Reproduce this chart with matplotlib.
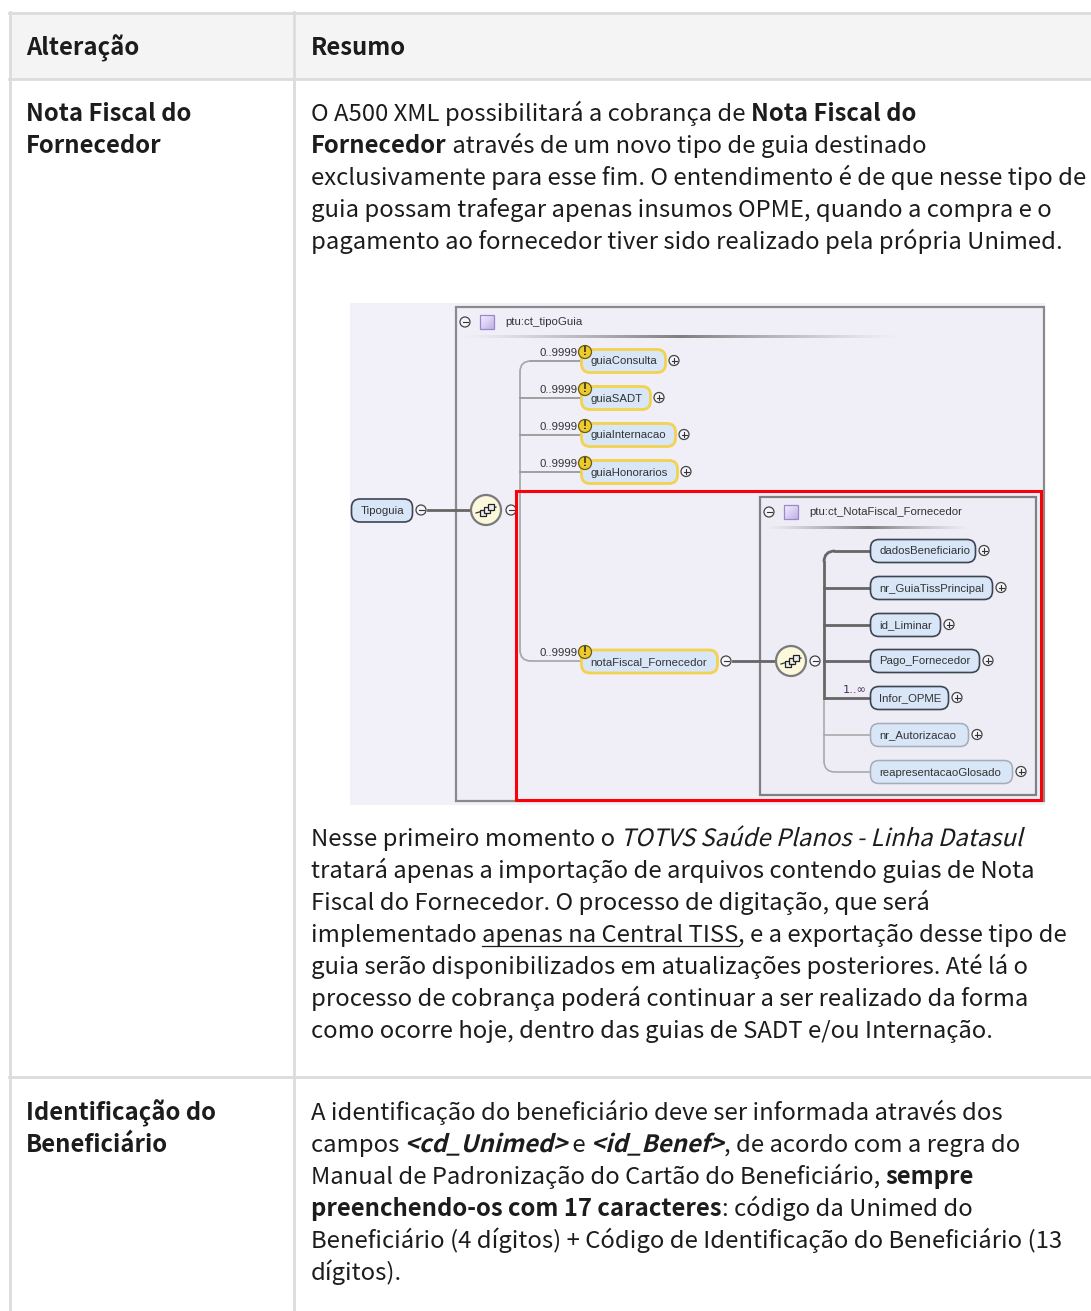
import numpy as np
import matplotlib
matplotlib.use("Agg")
import matplotlib.pyplot as plt
from matplotlib.patches import Circle, FancyBboxPatch, PathPatch, Rectangle
from matplotlib.path import Path
from matplotlib.patheffects import AbstractPathEffect
from matplotlib.transforms import Affine2D
from matplotlib.font_manager import FontProperties

# Table text: each line is a list of (text, style) runs
header_left = "Alteração"
header_right = "Resumo"
left_row1 = ["Nota Fiscal do", "Fornecedor"]
left_row2 = ["Identificação do", "Beneficiário"]

para1 = [
    [("O A500 XML possibilitará a cobrança de ", "r"), ("Nota Fiscal do", "b")],
    [("Fornecedor", "b"), (" através de um novo tipo de guia destinado", "r")],
    [("exclusivamente para esse fim. O entendimento é de que nesse tipo de", "r")],
    [("guia possam trafegar apenas insumos OPME, quando a compra e o", "r")],
    [("pagamento ao fornecedor tiver sido realizado pela própria Unimed.", "r")],
]
para2 = [
    [("Nesse primeiro momento o ", "r"), ("TOTVS Saúde Planos - Linha Datasul", "i")],
    [("tratará apenas a importação de arquivos contendo guias de Nota", "r")],
    [("Fiscal do Fornecedor. O processo de digitação, que será", "r")],
    [("implementado ", "r"), ("apenas na Central TISS", "u"), (", e a exportação desse tipo de", "r")],
    [("guia serão disponibilizados em atualizações posteriores. Até lá o", "r")],
    [("processo de cobrança poderá continuar a ser realizado da forma", "r")],
    [("como ocorre hoje, dentro das guias de SADT e/ou Internação.", "r")],
]
para3 = [
    [("A identificação do beneficiário deve ser informada através dos", "r")],
    [("campos ", "r"), ("<cd_Unimed>", "bi"), (" e ", "r"), ("<id_Benef>", "bi"), (", de acordo com a regra do", "r")],
    [("Manual de Padronização do Cartão do Beneficiário, ", "r"), ("sempre", "b")],
    [("preenchendo-os com 17 caracteres", "b"), (": código da Unimed do", "r")],
    [("Beneficiário (4 dígitos) + Código de Identificação do Beneficiário (13", "r")],
    [("dígitos).", "r")],
]

# Diagram labels
outer_title = "ptu:ct_tipoGuia"
inner_title = "ptu:ct_NotaFiscal_Fornecedor"
outer_names = ["guiaConsulta", "guiaSADT", "guiaInternacao", "guiaHonorarios"]
inner_names = ["dadosBeneficiario", "nr_GuiaTissPrincipal", "id_Liminar", "Pago_Fornecedor",
               "Infor_OPME", "nr_Autorizacao", "reapresentacaoGlosado"]
inner_required = [True, True, True, True, True, False, False]

# Fonts
CJK = "Noto Sans CJK JP"
SIZE = 17.2
styles = {
    "r": FontProperties(family=CJK, size=SIZE),
    "b": FontProperties(family=CJK, size=SIZE, weight="bold"),
    "u": FontProperties(family=CJK, size=SIZE),
    "i": FontProperties(family=CJK, size=SIZE),
    "bi": FontProperties(family=CJK, size=SIZE, weight="bold"),
}


class Oblique(AbstractPathEffect):
    # the font has no italic, so slant the glyphs like a browser does
    def draw_path(self, renderer, gc, tpath, affine, rgbFace=None):
        renderer.draw_path(gc, tpath, Affine2D().skew_deg(14, 0) + affine, rgbFace)


fig = plt.figure(figsize=(10.91, 13.11), dpi=100, facecolor="white")
ax = fig.add_axes([0, 0, 1, 1])
ax.set_xlim(0, 1091)
ax.set_ylim(1311, 0)
ax.axis("off")
renderer = fig.canvas.get_renderer()


def run_width(s, fp):
    # pad with dots so leading and trailing spaces are counted
    w1 = renderer.get_text_width_height_descent("." + s + ".", fp, False)[0]
    w2 = renderer.get_text_width_height_descent("..", fp, False)[0]
    return w1 - w2


def draw_line(x, y, runs):
    for s, st in runs:
        fp = styles[st]
        t = ax.text(x, y, s, fontproperties=fp, color="#1c1c1c", va="baseline", ha="left")
        if st in ("i", "bi"):
            t.set_path_effects([Oblique()])
        w = run_width(s, fp)
        if st == "u":
            ax.plot([x, x + w], [y + 3.5, y + 3.5], color="#1c1c1c", lw=0.9)
        x += w


# Table frame
border = "#dcdcdc"
ax.add_patch(Rectangle((9, 12), 1082, 66, fc="#f4f4f4", ec="none"))
ax.plot([9, 1091], [12.5, 12.5], color=border, lw=2)
ax.plot([9, 1091], [78.5, 78.5], color=border, lw=2)
ax.plot([9, 1091], [1077, 1077], color=border, lw=2)
ax.plot([9.5, 9.5], [12, 1311], color=border, lw=2)
ax.plot([293.5, 293.5], [12, 1311], color=border, lw=2)

draw_line(26, 55, [(header_left, "b")])
draw_line(311, 55, [(header_right, "b")])
for i, s in enumerate(left_row1):
    draw_line(26, 121 + i * 32, [(s, "b")])
for i, s in enumerate(left_row2):
    draw_line(26, 1120 + i * 32, [(s, "b")])
for i, runs in enumerate(para1):
    draw_line(311, 121 + i * 32, runs)
for i, runs in enumerate(para2):
    draw_line(311, 846 + i * 32, runs)
for i, runs in enumerate(para3):
    draw_line(311, 1120 + i * 32, runs)

# Diagram
DFONT = "Liberation Sans"
DSIZE = 8.2
dtext = "#333333"
dark_line = "#666666"
thin_line = "#aaaaaa"
ax.add_patch(Rectangle((350, 303), 695, 502, fc="#f2f0f8", ec="none", zorder=1))
ax.add_patch(Rectangle((456, 307), 588, 494, fc="#f0eef7", ec="#8a8a8a", lw=1.6, zorder=2))
ax.add_patch(Rectangle((760, 497), 276, 298, fc="#eeecf5", ec="#808080", lw=1.6, zorder=2))


def pm_circle(x, y, plus):
    ax.add_patch(Circle((x, y), 5, fc="#f6f5fa", ec="#444444", lw=0.9, zorder=6))
    ax.plot([x - 2.5, x + 2.5], [y, y], color="#333333", lw=0.8, zorder=7)
    if plus:
        ax.plot([x, x], [y - 2.5, y + 2.5], color="#333333", lw=0.8, zorder=7)


def pill(x0, x1, y, name, edge="#3c4650", lw=1.2):
    ax.add_patch(FancyBboxPatch((x0 + 8, y - 3), x1 - x0 - 16, 6, boxstyle="round,pad=8.5,rounding_size=8.5",
                                fc="#d8e6f8", ec=edge, lw=lw, zorder=5))
    ax.text(x0 + 8.5, y + 0.5, name, fontsize=DSIZE, family=DFONT, color=dtext, va="center", ha="left", zorder=6)


def warn(x, y):
    ax.add_patch(Circle((x, y), 6.5, fc="#eccb2e", ec="#6e5a10", lw=0.9, zorder=7))
    ax.text(x, y + 0.3, "!", fontsize=8.5, family=DFONT, weight="bold", color="#222222", va="center", ha="center", zorder=8)


def seq_circle(x, y):
    ax.add_patch(Circle((x, y), 15, fc="#fbf8dc", ec="#7a7a7a", lw=1.6, zorder=6))
    ax.plot([x - 10, x + 10], [y + 3, y - 3], color="#333333", lw=0.9, zorder=7)
    for dx, dy in [(-5, 1), (-1, -2), (3, -5)]:
        ax.add_patch(Rectangle((x + dx - 1.5, y + dy - 1.5), 6, 6, fc="#eeeeee", ec="#222222", lw=0.9, zorder=8))


def fade_line(x0, x1, y):
    # the grey rule under a box title fades out at both ends
    rgba = np.zeros((1, 200, 4))
    rgba[..., :3] = 0.5
    rgba[..., 3] = np.clip(1 - np.abs(np.linspace(-1, 1, 200)), 0, 1) ** 1.2
    ax.imshow(rgba, extent=(x0, x1, y + 1.5, y - 1.5), aspect="auto", zorder=3)


def title(x, y, name):
    pm_circle(x, y, False)
    grad = np.linspace(0, 1, 20)[None, :] * 0.5 + np.linspace(0, 1, 20)[:, None] * 0.5
    rgb = np.dstack([0.96 - 0.2 * grad, 0.95 - 0.26 * grad, 0.99 - 0.08 * grad])
    ax.imshow(rgb, extent=(x + 15, x + 29, y + 7, y - 7), aspect="auto", zorder=6)
    ax.add_patch(Rectangle((x + 15, y - 7), 14, 14, fc="none", ec="#9a88cc", lw=0.9, zorder=7))
    ax.text(x + 40, y, name, fontsize=DSIZE, family=DFONT, color=dtext, va="center", ha="left", zorder=6)


def corner(x0, y0, xc, yc, x1, y1, color, lw):
    # rounded bend of a connector, from (x0, y0) over the corner (xc, yc) to (x1, y1)
    path = Path([(x0, y0), (xc, yc), (x1, y1)], [Path.MOVETO, Path.CURVE3, Path.CURVE3])
    ax.add_patch(PathPatch(path, fc="none", ec=color, lw=lw, zorder=4))


title(465, 322, outer_title)
fade_line(460, 900, 337)
title(769, 512, inner_title)
fade_line(765, 970, 528)

# root element and the outer sequence
pill(352, 412, 510.5, "Tipoguia")
pm_circle(421, 510, False)
ax.plot([428, 471], [510, 510], color=dark_line, lw=2, zorder=4)
seq_circle(486, 510)
pm_circle(511, 510, False)

outer_y = [361, 398, 435, 472]
outer_x1 = [665, 650, 675, 677]
corner(520, 372, 520, 361, 531, 361, thin_line, 1.3)
ax.plot([520, 520], [372, 650], color=thin_line, lw=1.3, zorder=4)
corner(520, 650, 520, 661, 531, 661, thin_line, 1.3)
ax.plot([531, 582], [661, 661], color=thin_line, lw=1.3, zorder=4)
for i, (name, y, x1) in enumerate(zip(outer_names, outer_y, outer_x1)):
    ax.plot([531 if i == 0 else 520, 582], [y, y], color="#999999", lw=1.3, zorder=4)
    pill(582, x1, y, name, edge="#f3d24e", lw=2)
    warn(585, y - 9)
    ax.text(539, y - 8, "0..9999", fontsize=DSIZE, family=DFONT, color=dtext, va="center", ha="left", zorder=6)
    pm_circle(x1 + 9, y - 0.5, True)

pill(582, 717, 661.5, "notaFiscal_Fornecedor", edge="#f3d24e", lw=2)
warn(585, 652)
ax.text(539, 653, "0..9999", fontsize=DSIZE, family=DFONT, color=dtext, va="center", ha="left", zorder=6)
pm_circle(726, 661, False)
ax.plot([733, 776], [661, 661], color=dark_line, lw=2, zorder=4)
seq_circle(791, 661)
pm_circle(815, 661, False)

# inner sequence
inner_y = [551, 588, 625, 661, 698, 735, 772]
inner_x1 = [975, 992, 940, 979, 948, 968, 1012]
corner(824, 562, 824, 551, 835, 551, dark_line, 2)
ax.plot([824, 824], [562, 698], color=dark_line, lw=2, zorder=4)
ax.plot([824, 824], [698, 761], color=thin_line, lw=1.2, zorder=4)
corner(824, 761, 824, 772, 835, 772, thin_line, 1.2)
for i, (name, y, x1, req) in enumerate(zip(inner_names, inner_y, inner_x1, inner_required)):
    x0 = 835 if i in (0, 6) else 824
    if req:
        ax.plot([x0, 871], [y, y], color=dark_line, lw=2, zorder=4)
        pill(871, x1, y, name)
    else:
        ax.plot([x0, 871], [y, y], color=thin_line, lw=1.2, zorder=4)
        pill(871, x1, y, name, edge="#a3adb8", lw=1.1)
    pm_circle(x1 + 9, y - 0.5, True)
ax.text(843, 690, "1..∞", fontsize=DSIZE, family="DejaVu Sans", color="#4a2a5a", va="center", ha="left", zorder=6)

# red highlight box
ax.add_patch(Rectangle((516, 491), 524.5, 309, fc="none", ec="#fb0007", lw=2.2, zorder=9))

ax.set_xlim(0, 1091)
ax.set_ylim(1311, 0)
fig.savefig("out.png", dpi=100)
